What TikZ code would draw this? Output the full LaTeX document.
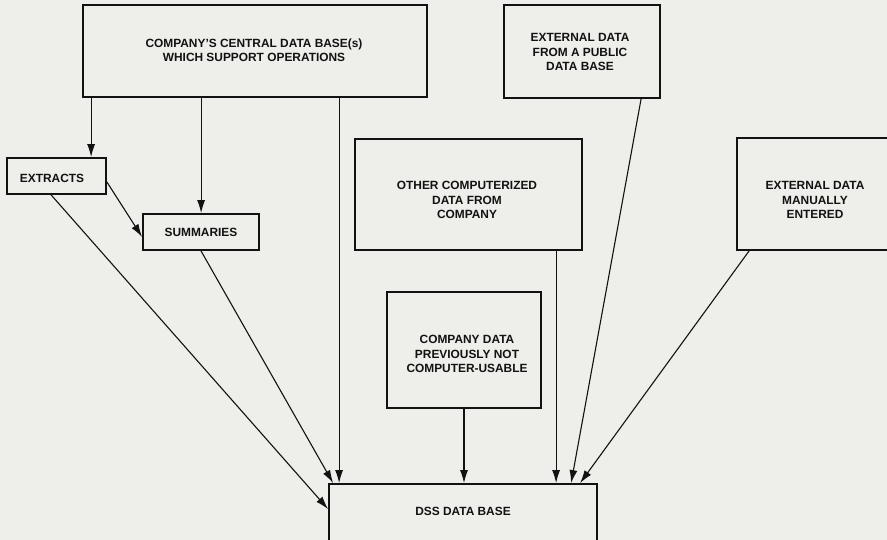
\documentclass[tikz,border=0pt]{standalone}
\usepackage{fontspec}
\setmainfont{Liberation Sans}
\usetikzlibrary{arrows.meta,calc}
\definecolor{paper}{RGB}{238,238,234}
\definecolor{ink}{RGB}{18,18,18}
\tikzset{
  box/.style={draw=ink, line width=1.8pt, fill=paper, rectangle, inner sep=0pt},
  txt/.style={align=center, font=\fontsize{11.9}{14.4}\selectfont\bfseries, text=ink, inner sep=0pt},
  arr/.style={draw=ink, line width=1.1pt, -{Latex[length=13pt,width=8pt]}},
}
\begin{document}
\begin{tikzpicture}[x=1pt,y=-1pt]
\useasboundingbox (0,0) rectangle (887,540);
\fill[paper] (0,0) rectangle (887,540);
\clip (0,0) rectangle (887,540);

% boxes
\node[box, minimum width=344, minimum height=92] (company) at (255,51) {};
\node[txt] (companyt) at (254,50) {COMPANY'S CENTRAL DATA BASE(s)\\WHICH SUPPORT OPERATIONS};

\node[box, minimum width=156, minimum height=93] (public) at (582,51.5) {};
\node[txt] (publict) at (580,52) {EXTERNAL DATA\\FROM A PUBLIC\\DATA BASE};

\node[box, minimum width=227, minimum height=111] (other) at (468.5,194.5) {};
\node[txt] (othert) at (467,200) {OTHER COMPUTERIZED\\DATA FROM\\COMPANY};

\node[box, minimum width=156, minimum height=112] (manual) at (815,194) {};
\node[txt] (manualt) at (815,200) {EXTERNAL DATA\\MANUALLY\\ENTERED};

\node[box, minimum width=99, minimum height=36] (extracts) at (56.5,176) {};
\node[txt] (extractst) at (52,178) {EXTRACTS};

\node[box, minimum width=116, minimum height=36] (summaries) at (201,232) {};
\node[txt] (summariest) at (201,232) {SUMMARIES};

\node[box, minimum width=154, minimum height=116] (prev) at (464,350) {};
\node[txt] (prevt) at (467,354) {COMPANY DATA\\PREVIOUSLY NOT\\COMPUTER-USABLE};

\node[box, minimum width=268, minimum height=90] (dss) at (463,529) {};
\node[txt] (dsst) at (463,511) {DSS DATA BASE};

% connector anchor points
\coordinate (c1) at ([xshift=9pt]company.south west);
\coordinate (c2) at ([xshift=119pt]company.south west);
\coordinate (c3) at ([xshift=257pt]company.south west);
\coordinate (e1) at ([yshift=-6pt]extracts.east);
\coordinate (e2) at ([xshift=45pt]extracts.south west);
\coordinate (s1) at ([yshift=-5pt]summaries.west);
\coordinate (o1) at ([xshift=202pt]other.south west);
\coordinate (p1) at ([xshift=138pt]public.south west);
\coordinate (m1) at ([xshift=13pt]manual.south west);
\coordinate (d1) at ([yshift=-26pt]dss.north west);
\coordinate (d2) at ([xshift=5pt]dss.north west);
\coordinate (d3) at ([xshift=243pt]dss.north west);
\coordinate (d4) at ([xshift=252pt]dss.north west);

% connectors
\draw[arr] (c1) -- (c1 |- extracts.north);
\draw[arr] (c2) -- (c2 |- summaries.north);
\draw[arr] (e1) -- (s1);
\draw[arr] (e2) -- (d1);
\draw[arr] (summaries.south) -- (d2);
\draw[arr] (c3) -- (c3 |- dss.north);
\draw[arr] (prev.south) -- (prev.south |- dss.north);
\draw[arr] (o1) -- (o1 |- dss.north);
\draw[arr] (p1) -- (d3);
\draw[arr] (m1) -- (d4);
\end{tikzpicture}
\end{document}
